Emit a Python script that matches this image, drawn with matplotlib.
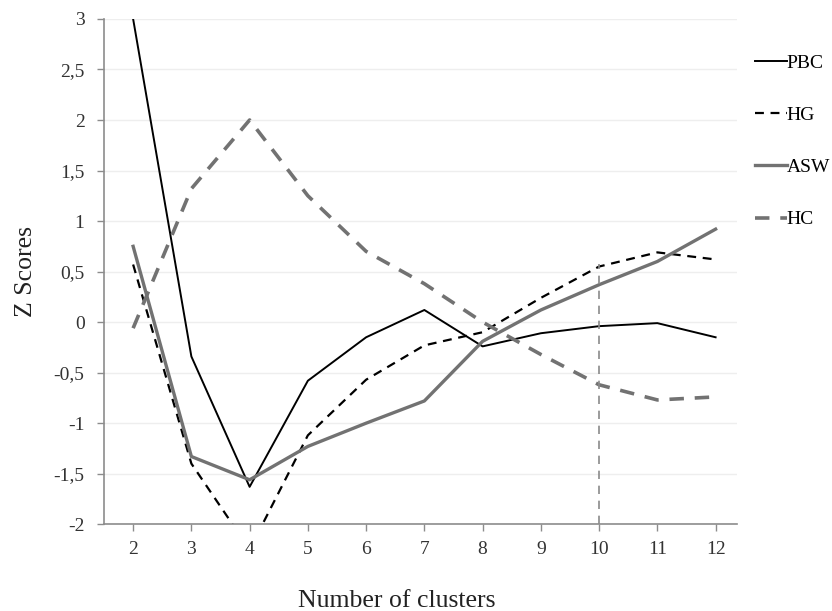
import numpy as np
import matplotlib
matplotlib.use("Agg")
import matplotlib.pyplot as plt
from matplotlib.ticker import FuncFormatter

plt.rcParams['font.family'] = ['Liberation Serif', 'DejaVu Serif']

# Z scores per index, by number of clusters
clusters = [2, 3, 4, 5, 6, 7, 8, 9, 10, 11, 12]
pbc = [3.0, -0.34, -1.63, -0.58, -0.15, 0.12, -0.24, -0.11, -0.04, -0.01, -0.15]
hg = [0.57, -1.4, -2.25, -1.12, -0.57, -0.23, -0.1, 0.24, 0.55, 0.69, 0.62]
asw = [0.75, -1.33, -1.56, -1.23, -1.0, -0.78, -0.19, 0.12, 0.37, 0.6, 0.92]
hc = [-0.06, 1.32, 2.0, 1.25, 0.7, 0.38, 0.0, -0.32, -0.62, -0.77, -0.74]
best_k = 10
best_k_top = 0.58

grey = '#727272'

fig = plt.figure(figsize=(8.32, 6.11), dpi=100)
ax = fig.add_axes([0.125, 0.142, 0.761, 0.827])

ax.plot(clusters, pbc, color='black', lw=1.4, label='PBC')
ax.plot(clusters, hg, color='black', lw=1.6, ls=(0, (4, 3)), label='HG')
ax.plot(clusters, asw, color=grey, lw=2.4, label='ASW')
ax.plot(clusters, hc, color=grey, lw=2.6, ls=(0, (4, 3)), label='HC')

# marker for the chosen number of clusters
ax.plot([best_k, best_k], [-2, best_k_top], color='#8a8a8a', lw=1.2,
        ls=(0, (5, 4)))

ax.set_xlim(1.5, 12.37)
ax.set_ylim(-2, 3)
ax.set_xticks(clusters)
ax.set_yticks(np.arange(-2, 3.01, 0.5))
ax.yaxis.set_major_formatter(FuncFormatter(
    lambda v, p: ('%g' % v).replace('.', ',')))

ax.grid(axis='y', color='#eeeeee', lw=1)
ax.set_axisbelow(True)
for s in ['top', 'right']:
    ax.spines[s].set_visible(False)
for s in ['left', 'bottom']:
    ax.spines[s].set_color('#8c8c8c')
    ax.spines[s].set_linewidth(1.2)
ax.tick_params(colors='#8c8c8c', labelcolor='#333333', labelsize=14,
               length=5, width=1)
ax.tick_params(axis='x', pad=7)
ax.tick_params(axis='y', pad=9)

ax.set_xlabel('Number of clusters', fontsize=18.5, color='#222222')
ax.xaxis.set_label_coords(0.463, -0.13)
ax.set_ylabel('Z Scores', fontsize=18.5, color='#222222', labelpad=12)

ax.legend(loc='upper left', bbox_to_anchor=(0.886, 0.94),
          bbox_transform=fig.transFigure, frameon=False, fontsize=14,
          handlelength=1.65, handletextpad=0.0, labelspacing=1.78)

fig.savefig('out.png', dpi=100)
